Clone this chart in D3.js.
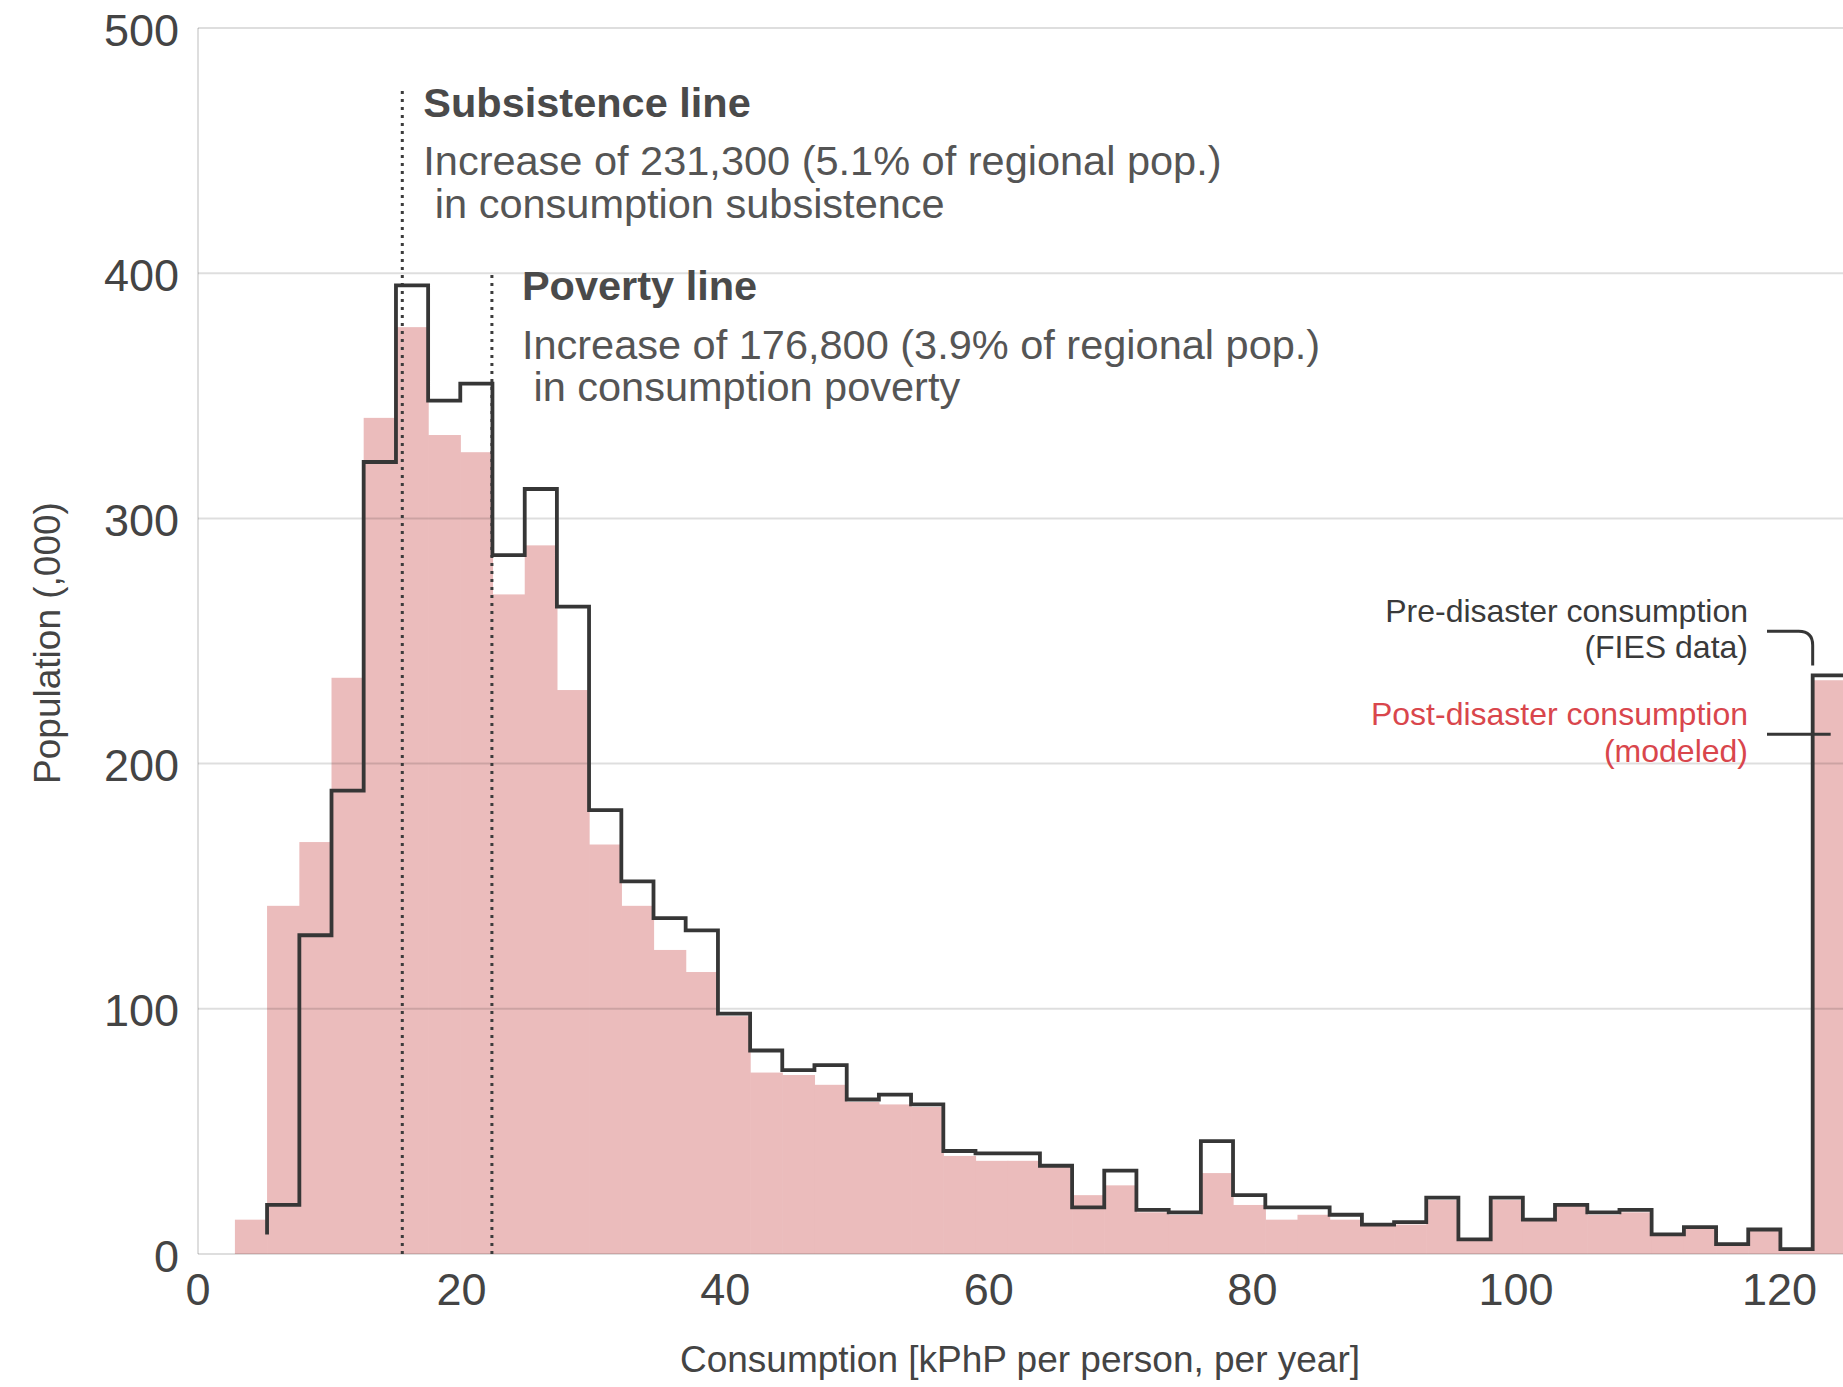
<!DOCTYPE html>
<html>
<head>
<meta charset="utf-8">
<script src="https://cdn.jsdelivr.net/npm/d3@7"></script>
<style>
    body { margin: 0; background: #fff; }
    svg { display: block; font-family: "Liberation Sans", Arial, Helvetica, sans-serif; }
</style>
</head>
<body>
<svg width="1843" height="1387"></svg>
<script>
//Histogram bin edges (kPhP per person, per year)
const binEdges = [2.80, 5.24, 7.69, 10.13, 12.57, 15.02, 17.46, 19.90, 22.34, 24.79,
    27.23, 29.67, 32.12, 34.56, 37.00, 39.45, 41.89, 44.33, 46.77, 49.22,
    51.66, 54.10, 56.55, 58.99, 61.43, 63.88, 66.32, 68.76, 71.20, 73.65,
    76.09, 78.53, 80.98, 83.42, 85.86, 88.31, 90.75, 93.19, 95.63, 98.08,
    100.52, 102.96, 105.41, 107.85, 110.29, 112.74, 115.18, 117.62, 120.06, 122.51,
    124.95];

//Pre-disaster consumption (FIES data), population in thousands per bin
const preDisaster = [null, 20, 130, 189, 323, 395, 348, 355, 285, 312,
    264, 181, 152, 137, 132, 98, 83, 75, 77, 63,
    65, 61, 42, 41, 41, 36, 19, 34, 18, 17,
    46, 24, 19, 19, 16, 12, 13, 23, 6, 23,
    14, 20, 17, 18, 8, 11, 4, 10, 2, 236];

//Post-disaster consumption (modeled)
const postDisaster = [14, 142, 168, 235, 341, 378, 334, 327, 269, 289,
    230, 167, 142, 124, 115, 97, 74, 73, 69, 62,
    61, 60, 40, 38, 38, 36, 24, 28, 17, 16,
    33, 20, 14, 16, 14, 12, 12, 22, 6, 22,
    14, 20, 16, 17, 8, 11, 4, 10, 2, 234];

//Value where the pre-disaster outline starts
const preStepStart = 8;

//Axis ticks
const xTicks = [0, 20, 40, 60, 80, 100, 120];
const yTicks = [0, 100, 200, 300, 400, 500];

//Reference lines
const subsistenceLine = 15.5;
const subsistenceTop = 475;
const povertyLine = 22.3;
const povertyTop = 400;

const svg = d3.select("svg");
const fullWidth = 1843;

//Scales
const x = d3.scaleLinear()
    .domain([0, 120])
    .range([198, 1779.6]);

const y = d3.scaleLinear()
    .domain([0, 500])
    .range([1254, 28]);

const pink = "#ebbcbc";
const dark = "#363636";
const textGray = "#555";

//Post-disaster bars
svg.append("g")
    .selectAll("rect")
    .data(postDisaster)
    .enter()
    .append("rect")
    .attr("x", (d, i) => x(binEdges[i]))
    .attr("y", d => y(d))
    .attr("width", (d, i) => x(binEdges[i + 1]) - x(binEdges[i]) + 0.6)
    .attr("height", d => y(0) - y(d))
    .attr("fill", pink);

//Horizontal gridlines
svg.append("g")
    .selectAll("line")
    .data(yTicks)
    .enter()
    .append("line")
    .attr("x1", x(0))
    .attr("x2", fullWidth)
    .attr("y1", d => y(d))
    .attr("y2", d => y(d))
    .attr("stroke", "rgba(0,0,0,0.13)")
    .attr("stroke-width", 2);

//Left axis line
svg.append("line")
    .attr("x1", x(0))
    .attr("x2", x(0))
    .attr("y1", y(0))
    .attr("y2", y(500))
    .attr("stroke", "rgba(0,0,0,0.13)")
    .attr("stroke-width", 2);

//Y tick labels
svg.append("g")
    .selectAll("text")
    .data(yTicks)
    .enter()
    .append("text")
    .attr("x", 179)
    .attr("y", d => y(d) + 2)
    .attr("text-anchor", "end")
    .attr("dominant-baseline", "central")
    .attr("font-size", "45px")
    .attr("fill", "#444")
    .text(d => d);

//X tick labels
svg.append("g")
    .selectAll("text")
    .data(xTicks)
    .enter()
    .append("text")
    .attr("x", d => x(d))
    .attr("y", 1305)
    .attr("text-anchor", "middle")
    .attr("font-size", "45px")
    .attr("fill", "#444")
    .text(d => d);

//Axis labels
svg.append("text")
    .attr("x", 1020)
    .attr("y", 1372)
    .attr("text-anchor", "middle")
    .attr("font-size", "37px")
    .attr("fill", "#444")
    .text("Consumption [kPhP per person, per year]");

svg.append("text")
    .attr("transform", "translate(47, 643) rotate(-90)")
    .attr("text-anchor", "middle")
    .attr("dominant-baseline", "central")
    .attr("font-size", "37px")
    .attr("fill", "#444")
    .text("Population (,000)");

//Dotted subsistence and poverty lines
const refLines = [
    { value: subsistenceLine, top: subsistenceTop },
    { value: povertyLine, top: povertyTop }
];

svg.append("g")
    .selectAll("line")
    .data(refLines)
    .enter()
    .append("line")
    .attr("x1", d => x(d.value))
    .attr("x2", d => x(d.value))
    .attr("y1", y(0))
    .attr("y2", d => y(d.top))
    .attr("stroke", "#3c3c3c")
    .attr("stroke-width", 3)
    .attr("stroke-dasharray", "3,5");

//Pre-disaster outline as a step line
const stepPoints = [[x(binEdges[1]), y(preStepStart)]];
preDisaster.forEach((d, i) => {
    if (d === null) return;
    stepPoints.push([x(binEdges[i]), y(d)]);
    stepPoints.push([x(binEdges[i + 1]), y(d)]);
});

svg.append("path")
    .attr("d", d3.line()(stepPoints))
    .attr("fill", "none")
    .attr("stroke", dark)
    .attr("stroke-width", 3.8)
    .attr("stroke-linejoin", "miter");

//Annotations for the two lines
const notes = [
    { x: x(subsistenceLine) + 21, lines: [
        { text: "Subsistence line", y: 117, bold: true },
        { text: "Increase of 231,300 (5.1% of regional pop.)", y: 175 },
        { text: " in consumption subsistence", y: 218 }
    ]},
    { x: x(povertyLine) + 30, lines: [
        { text: "Poverty line", y: 300, bold: true },
        { text: "Increase of 176,800 (3.9% of regional pop.)", y: 359 },
        { text: " in consumption poverty", y: 401 }
    ]}
];

notes.forEach(note => {
    svg.append("g")
        .selectAll("text")
        .data(note.lines)
        .enter()
        .append("text")
        .attr("x", note.x)
        .attr("y", d => d.y)
        .attr("font-size", "41.5px")
        .attr("font-weight", d => d.bold ? "bold" : "normal")
        .attr("fill", d => d.bold ? "#4a4a4a" : textGray)
        .style("white-space", "pre")
        .text(d => d.text);
});

//Legend labels for the last bin
const legendRight = 1748;
const legend = [
    { text: "Pre-disaster consumption", y: 622, color: "#3a3a3a" },
    { text: "(FIES data)", y: 658, color: "#3a3a3a" },
    { text: "Post-disaster consumption", y: 725, color: "#d9464c" },
    { text: "(modeled)", y: 762, color: "#d9464c" }
];

svg.append("g")
    .selectAll("text")
    .data(legend)
    .enter()
    .append("text")
    .attr("x", legendRight)
    .attr("y", d => d.y)
    .attr("text-anchor", "end")
    .attr("font-size", "32px")
    .attr("fill", d => d.color)
    .text(d => d.text);

//Leader lines
const lastEdge = x(binEdges[49]);
svg.append("path")
    .attr("d", `M1767,${y(254)} H${lastEdge - 14} Q${lastEdge},${y(254)} ${lastEdge},${y(254) + 14} V${y(240)}`)
    .attr("fill", "none")
    .attr("stroke", dark)
    .attr("stroke-width", 3);

svg.append("line")
    .attr("x1", 1767)
    .attr("x2", lastEdge + 18)
    .attr("y1", y(212))
    .attr("y2", y(212))
    .attr("stroke", dark)
    .attr("stroke-width", 3);
</script>
</body>
</html>
